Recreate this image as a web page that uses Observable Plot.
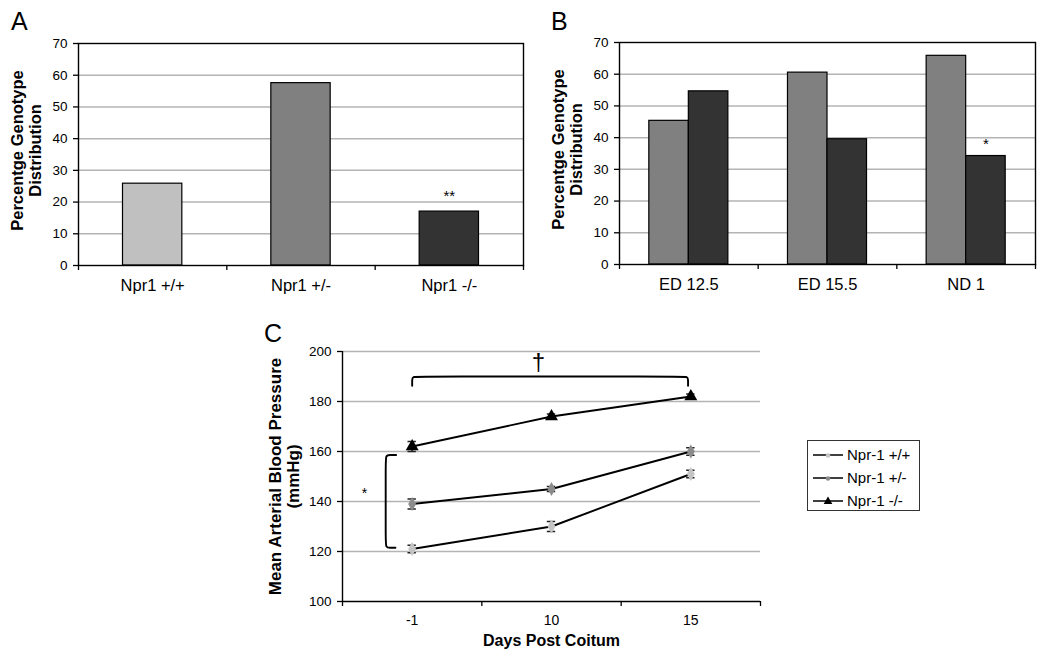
<!DOCTYPE html>
<html>
<head>
<meta charset="utf-8">
<script src="https://cdn.jsdelivr.net/npm/d3@7"></script>
<script src="https://cdn.jsdelivr.net/npm/@observablehq/plot@0.6"></script>
<style>
  body { margin: 0; background: #fff; font-family: "Liberation Sans", Arial, sans-serif; }
  #fig { position: relative; width: 1050px; height: 667px; overflow: hidden; background: #fff; }
  .panel { position: absolute; }
  .letter { position: absolute; font-size: 25px; line-height: 1; color: #000; z-index: 2; }
  #legend { position: absolute; left: 807px; top: 440px; width: 113px; height: 71px; border: 1.3px solid #333; box-sizing: border-box; padding-top: 2px; }
  #legend .row { display: flex; align-items: center; height: 23px; font-size: 15px; color: #000; }
  #legend svg { margin-left: 4px; margin-right: 3px; }
</style>
</head>
<body>
<div id="fig">
  <div class="letter" style="left:11px;top:9px;">A</div>
  <div class="letter" style="left:551px;top:9px;">B</div>
  <div class="letter" style="left:264px;top:321px;">C</div>
  <div class="panel" id="pA" style="left:0;top:0;"></div>
  <div class="panel" id="pB" style="left:525px;top:0;"></div>
  <div class="panel" id="pC" style="left:250px;top:320px;"></div>
  <div id="legend"></div>
</div>
<script>
// ---- Data ----
const genotypesA = ["Npr1 +/+", "Npr1 +/-", "Npr1 -/-"];
const percentA = [25.8, 57.5, 17.0];
const starsA = ["", "", "**"];

const stagesB = ["ED 12.5", "ED 15.5", "ND 1"];
const grayB = [45.3, 60.5, 65.8];
const darkB = [54.6, 39.5, 34.2];
const starsB = ["", "", "*"];

const daysC = ["-1", "10", "15"];
const seriesC = ["Npr-1 +/+", "Npr-1 +/-", "Npr-1 -/-"];
const wtC = [121, 130, 151];
const wtErrC = [1.5, 2, 1.5];
const hetC = [139, 145, 160];
const hetErrC = [2, 1, 1.5];
const koC = [162, 174, 182];
const koErrC = [2, 1, 1];

// annotation brackets for panel C (data coordinates)
const braceTopC = [[0.5,186.3],[0.5,188.6],[0.5,190],[0.56,190],[2.42,190],[2.48,190],[2.48,188.6],[2.48,186.3]];
const braceLeftC = [[0.385,158.6],[0.34,158.6],[0.31,158.6],[0.31,155],[0.31,125],[0.31,121.5],[0.34,121.5],[0.38,121.5]];

// ---- Styles ----
const FONT = '"Liberation Sans", Arial, sans-serif';
const colorsA = ["#c0c0c0", "#808080", "#333333"];
const colorsB = ["#808080", "#333333"];
const fillC = ["#c4c4c4", "#8c8c8c", "#000000"];
const symC = ["diamond", "diamond", "triangle"];
const GRID = "#b4b4b4";

const baseStyle = { fontFamily: FONT, fontSize: "13.5px", color: "#000", background: "transparent", overflow: "visible" };

// ---- Panel A ----
const tableA = genotypesA.map((g, i) => ({ g, i, v: percentA[i], star: starsA[i], c: colorsA[i] }));
const plotA = Plot.plot({
  width: 530, height: 300,
  marginLeft: 78, marginRight: 7, marginTop: 43, marginBottom: 35,
  style: baseStyle,
  x: { domain: [0, 3] },
  y: { domain: [0, 70] },
  color: { type: "identity" },
  marks: [
    Plot.ruleY(d3.range(10, 70, 10), { stroke: GRID, strokeWidth: 1.5 }),
    Plot.rectY(tableA, { x1: d => d.i + 0.3, x2: d => d.i + 0.7, y1: 0, y2: "v", fill: "c", stroke: "#000", strokeWidth: 1.2 }),
    Plot.frame({ stroke: "#000", strokeWidth: 1.4 }),
    Plot.axisY({ ticks: d3.range(0, 80, 10), tickSize: 5, tickPadding: 6, label: null, strokeWidth: 1.3 }),
    Plot.axisX({ ticks: [0, 1, 2, 3], tickFormat: () => "", tickSize: 5, label: null, strokeWidth: 1.3 }),
    Plot.axisX({ ticks: [0.5, 1.5, 2.5], tickFormat: d => genotypesA[Math.floor(d)], tickSize: 0, tickPadding: 14, fontSize: 16.5, label: null }),
    Plot.text(tableA, { x: d => d.i + 0.5, y: "v", text: "star", dy: -15, fontSize: 15 }),
    Plot.text(["Percentge Genotype\nDistribution"], { frameAnchor: "left", textAnchor: "middle", text: d => d, rotate: -90, dx: -52, dy: -4, fontWeight: "bold", fontSize: 16.5, lineHeight: 1.1 })
  ]
});
document.getElementById("pA").append(plotA);

// ---- Panel B ----
const tableB = stagesB.flatMap((s, i) => [
  { s, i, k: 0, v: grayB[i], star: "", c: colorsB[0] },
  { s, i, k: 1, v: darkB[i], star: starsB[i], c: colorsB[1] }
]);
const plotB = Plot.plot({
  width: 525, height: 300,
  marginLeft: 94, marginRight: 15, marginTop: 42, marginBottom: 36,
  style: baseStyle,
  x: { domain: [0, 3] },
  y: { domain: [0, 70] },
  color: { type: "identity" },
  marks: [
    Plot.ruleY(d3.range(10, 70, 10), { stroke: GRID, strokeWidth: 1.5 }),
    Plot.rectY(tableB, { x1: d => d.i + 0.215 + d.k * 0.285, x2: d => d.i + 0.5 + d.k * 0.285, y1: 0, y2: "v", fill: "c", stroke: "#000", strokeWidth: 1.2 }),
    Plot.frame({ stroke: "#000", strokeWidth: 1.4 }),
    Plot.axisY({ ticks: d3.range(0, 80, 10), tickSize: 5, tickPadding: 6, label: null, strokeWidth: 1.3 }),
    Plot.axisX({ ticks: [0, 1, 2, 3], tickFormat: () => "", tickSize: 5, label: null, strokeWidth: 1.3 }),
    Plot.axisX({ ticks: [0.5, 1.5, 2.5], tickFormat: d => stagesB[Math.floor(d)], tickSize: 0, tickPadding: 14, fontSize: 16.5, label: null }),
    Plot.text(tableB, { x: d => d.i + 0.3575 + d.k * 0.285, y: "v", text: "star", dy: -12, fontSize: 15 }),
    Plot.text(["Percentge Genotype\nDistribution"], { frameAnchor: "left", textAnchor: "middle", text: d => d, rotate: -90, dx: -52, dy: -4, fontWeight: "bold", fontSize: 16.5, lineHeight: 1.1 })
  ]
});
document.getElementById("pB").append(plotB);

// ---- Panel C ----
const valuesC = [wtC, hetC, koC];
const errC = [wtErrC, hetErrC, koErrC];
const tableC = seriesC.flatMap((s, k) => daysC.map((d, i) => ({ s, k, i, day: d, v: valuesC[k][i], e: errC[k][i] })));
const capW = 0.03;
const plotC = Plot.plot({
  width: 560, height: 347,
  marginLeft: 92, marginRight: 50, marginTop: 31, marginBottom: 66,
  style: baseStyle,
  x: { domain: [0, 3] },
  y: { domain: [100, 200] },
  marks: [
    Plot.ruleY([120, 140, 160, 180, 200], { stroke: GRID, strokeWidth: 1.7 }),
    Plot.ruleX([0], { stroke: "#000", strokeWidth: 1.4 }),
    Plot.ruleY([100], { stroke: "#000", strokeWidth: 1.4 }),
    Plot.axisY({ ticks: d3.range(100, 220, 20), tickSize: 5, tickPadding: 6, label: null, strokeWidth: 1.3 }),
    Plot.axisX({ ticks: [0, 1, 2, 3], tickFormat: () => "", tickSize: 5, label: null, strokeWidth: 1.3 }),
    Plot.axisX({ ticks: [0.5, 1.5, 2.5], tickFormat: d => daysC[Math.floor(d)], tickSize: 0, tickPadding: 14, fontSize: 14, label: null }),
    Plot.line(tableC, { x: d => d.i + 0.5, y: "v", z: "s", stroke: "#000", strokeWidth: 1.9 }),
    Plot.ruleX(tableC, { x: d => d.i + 0.5, y1: d => d.v - d.e, y2: d => d.v + d.e, stroke: "#222", strokeWidth: 1.5 }),
    Plot.ruleY(tableC, { y: d => d.v - d.e, x1: d => d.i + 0.5 - capW, x2: d => d.i + 0.5 + capW, stroke: "#222", strokeWidth: 1.5 }),
    Plot.ruleY(tableC, { y: d => d.v + d.e, x1: d => d.i + 0.5 - capW, x2: d => d.i + 0.5 + capW, stroke: "#222", strokeWidth: 1.5 }),
    ...seriesC.map((s, k) => Plot.dot(tableC.filter(d => d.k === k), { x: d => d.i + 0.5, y: "v", symbol: symC[k], r: k === 2 ? 4.8 : 4.2, fill: fillC[k], stroke: "none" })),
    Plot.line(braceTopC, { x: d => d[0], y: d => d[1], curve: "basis", stroke: "#000", strokeWidth: 1.9 }),
    Plot.line(braceLeftC, { x: d => d[0], y: d => d[1], curve: "basis", stroke: "#000", strokeWidth: 1.9 }),
    Plot.text(["*"], { x: 0.158, y: 143.2, text: d => d, fontSize: 14 }),
    Plot.text(["†"], { x: 1.406, y: 195.6, text: d => d, fontSize: 24 }),
    Plot.text(["Mean Arterial Blood Pressure\n(mmHg)"], { frameAnchor: "left", textAnchor: "middle", text: d => d, rotate: -90, dx: -58, dy: 0, fontWeight: "bold", fontSize: 17, lineHeight: 1.05 }),
    Plot.text(["Days Post Coitum"], { frameAnchor: "bottom", text: d => d, dy: 44, fontWeight: "bold", fontSize: 16 })
  ]
});
document.getElementById("pC").append(plotC);

// ---- Legend (panel C) ----
const legend = d3.select("#legend");
seriesC.forEach((s, k) => {
  const row = legend.append("div").attr("class", "row");
  const sw = row.append("svg").attr("width", 32).attr("height", 14);
  sw.append("line").attr("x1", 1).attr("x2", 31).attr("y1", 7).attr("y2", 7).attr("stroke", "#000").attr("stroke-width", 1.5);
  const sym = k === 2 ? d3.symbolTriangle : d3.symbolCircle;
  sw.append("path").attr("d", d3.symbol(sym, k === 2 ? 32 : 16)()).attr("transform", "translate(16,7.5)").attr("fill", fillC[k]);
  row.append("span").text(s);
});
</script>
</body>
</html>
